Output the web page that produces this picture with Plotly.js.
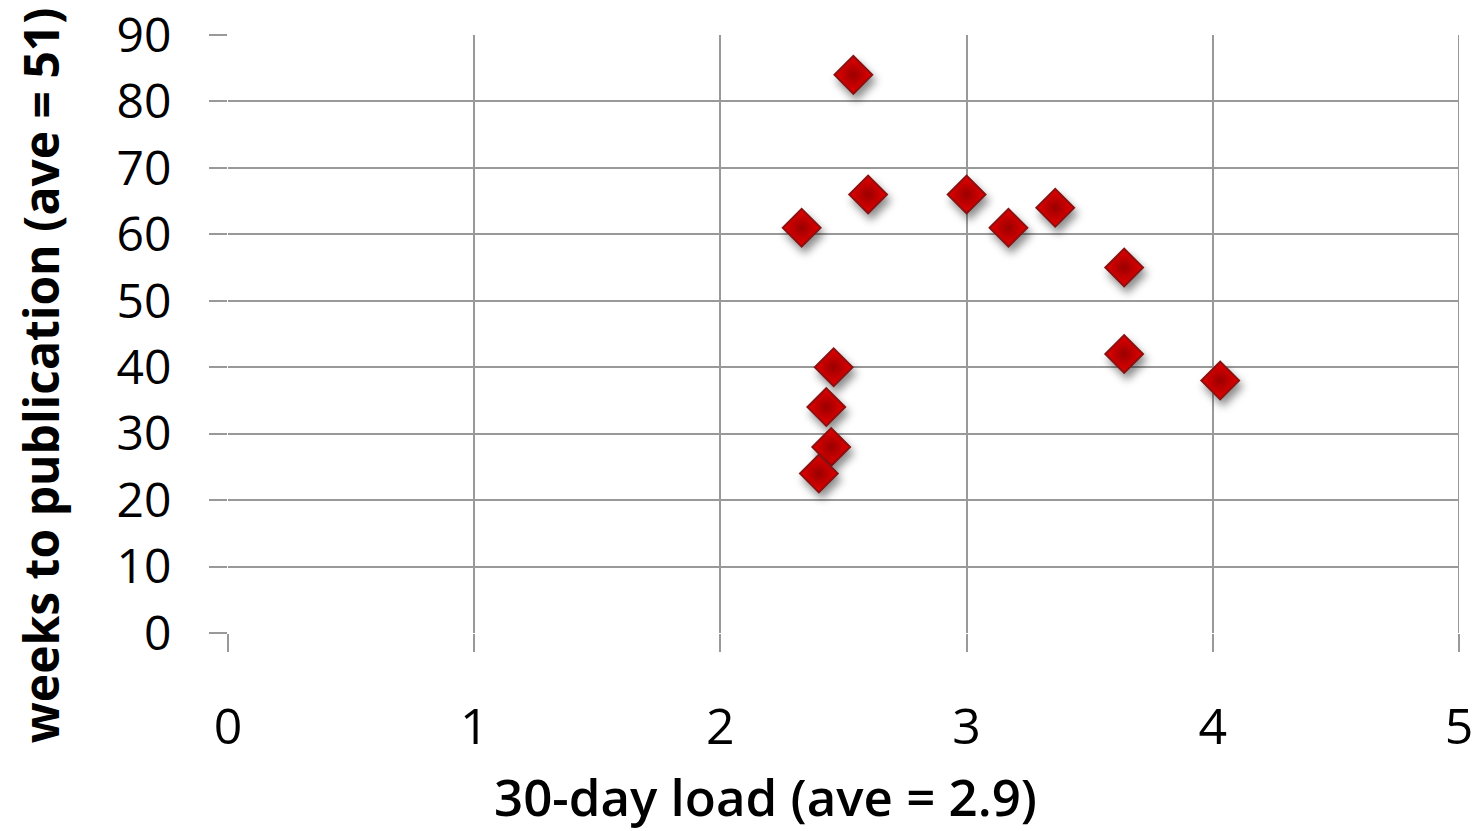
<!DOCTYPE html>
<html>
<head>
<meta charset="utf-8">
<script src="https://cdn.plot.ly/plotly-3.0.1.min.js"></script>
<style>
html,body{margin:0;padding:0;background:#fff;}
#chart{width:1478px;height:831px;}
.scatterlayer .points path{filter:drop-shadow(3px 6px 4px rgba(0,0,0,0.45));}
</style>
</head>
<body>
<div id="chart"></div>
<script>
const loadValues = [2.54, 2.60, 2.33, 3.00, 3.17, 3.36, 3.64, 3.64, 4.03, 2.46, 2.43, 2.45, 2.40];
const weeksValues = [84, 66, 61, 66, 61, 64, 55, 42, 38, 40, 34, 28, 24];
const xTicks = [0, 1, 2, 3, 4, 5];
const yTicks = [0, 10, 20, 30, 40, 50, 60, 70, 80, 90];
const xTitle = "30-day load (ave = 2.9)";
const yTitle = "weeks to publication (ave = 51)";

const trace = {
  type: 'scatter',
  mode: 'markers',
  x: loadValues,
  y: weeksValues,
  marker: {
    symbol: 'diamond',
    size: 29,
    color: '#e60000',
    gradient: {type: 'radial', color: '#9a0000'},
    line: {color: '#8c1010', width: 2}
  },
  hoverinfo: 'x+y'
};

const layout = {
  width: 1478,
  height: 831,
  margin: {l: 228, r: 19, t: 35, b: 198},
  paper_bgcolor: '#fff',
  plot_bgcolor: '#fff',
  showlegend: false,
  xaxis: {
    range: [0, 5],
    tickvals: xTicks,
    ticktext: xTicks.map(String),
    showgrid: true,
    gridcolor: '#999',
    gridwidth: 2,
    zeroline: false,
    showline: false,
    ticks: 'outside',
    ticklen: 18,
    tickwidth: 2,
    tickcolor: '#999',
    ticklabelstandoff: 32,
    tickfont: {family: 'Open Sans, sans-serif', size: 50, color: '#000'},
    fixedrange: true
  },
  yaxis: {
    range: [0, 90],
    tickvals: yTicks,
    ticktext: yTicks.map(String),
    showgrid: true,
    gridcolor: '#999',
    gridwidth: 2,
    zeroline: false,
    showline: false,
    ticks: 'outside',
    ticklen: 18,
    tickwidth: 2,
    tickcolor: '#999',
    ticklabelstandoff: 28,
    tickfont: {family: 'Open Sans, sans-serif', size: 48, color: '#000'},
    fixedrange: true
  },
  shapes: [
    {type: 'line', xref: 'x', yref: 'paper', x0: 5, x1: 5, y0: 0, y1: 1, line: {color: '#999', width: 2}}
  ],
  annotations: [
    {
      text: xTitle, xref: 'paper', yref: 'paper', x: 0.437, y: -0.272,
      xanchor: 'center', yanchor: 'middle', showarrow: false,
      font: {family: 'Open Sans, sans-serif', size: 51, color: '#000', weight: 600}
    },
    {
      text: yTitle, xref: 'paper', yref: 'paper', x: -0.1527, y: 0.431,
      xanchor: 'center', yanchor: 'middle', showarrow: false, textangle: -90,
      font: {family: 'Open Sans, sans-serif', size: 48, color: '#000', weight: 700}
    }
  ]
};

Plotly.newPlot('chart', [trace], layout, {displayModeBar: false});
</script>
</body>
</html>
